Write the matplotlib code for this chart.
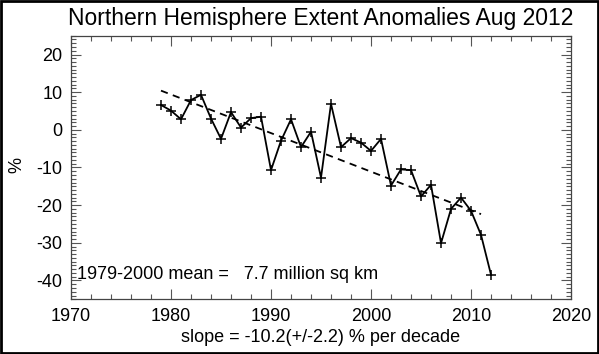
import numpy as np
import matplotlib
matplotlib.use("Agg")
import matplotlib.pyplot as plt
from matplotlib.patches import Rectangle
from matplotlib.ticker import MultipleLocator

plt.rcParams["font.family"] = ["Liberation Sans", "DejaVu Sans"]
plt.rcParams["axes.unicode_minus"] = False

years = list(range(1979, 2013))
anomaly = [6.6, 5.1, 2.8, 7.9, 9.3, 3.0, -2.4, 4.7, 0.6, 3.1,
           3.5, -10.7, -2.9, 2.8, -4.6, -0.5, -12.7, 6.9, -4.6, -2.2,
           -3.4, -5.6, -2.4, -14.8, -10.5, -10.7, -17.7, -14.6, -30.1, -21.0,
           -18.0, -21.5, -27.9, -38.5]
mean_extent = 7.7
slope_err = 2.2

x = np.array(years)
y = np.array(anomaly)
coef = np.polyfit(x, y, 1)
trend_x = np.array([1979, 2011])
trend_y = np.polyval(coef, trend_x)

fig = plt.figure(figsize=(5.99, 3.54), dpi=100)
ax = fig.add_axes([0.1185, 0.1545, 0.8348, 0.7447])

ax.plot(x, y, color="black", linewidth=1.3, marker="+", markersize=7.5,
        markeredgewidth=1.1)
ax.plot(trend_x, trend_y, color="black", linewidth=1.3, linestyle=(0, (4, 3)))

ax.set_xlim(1970, 2020)
ax.set_ylim(-45, 25)
ax.xaxis.set_major_locator(MultipleLocator(10))
ax.xaxis.set_minor_locator(MultipleLocator(2))
ax.yaxis.set_major_locator(MultipleLocator(10))
ax.yaxis.set_minor_locator(MultipleLocator(1))
ax.tick_params(which="both", direction="in", top=True, right=True,
               labelsize=13, width=0.8, color="#555555", pad=6)
ax.tick_params(which="major", length=7)
ax.tick_params(which="minor", length=3.5)
for s in ax.spines.values():
    s.set_linewidth(0.9)
    s.set_color("#444444")

ax.set_title("Northern Hemisphere Extent Anomalies Aug 2012", fontsize=16.5, pad=8)
ax.set_xlabel("slope = %.1f(+/-%.1f) %% per decade" % (coef[0] * 10, slope_err),
              fontsize=13, labelpad=3)
ax.text(1970.6, -38.4, "1979-2000 mean =   %.1f million sq km" % mean_extent,
        fontsize=13, va="center", ha="left")
fig.text(17 / 599, 1 - 165 / 354, "%", fontsize=13, rotation=90,
         ha="center", va="center")

fig.patches.append(Rectangle((0.002, 0.003), 0.996, 0.994, transform=fig.transFigure,
                             fill=False, edgecolor="black", linewidth=2))

fig.savefig("out.png", dpi=100)
plt.close(fig)
